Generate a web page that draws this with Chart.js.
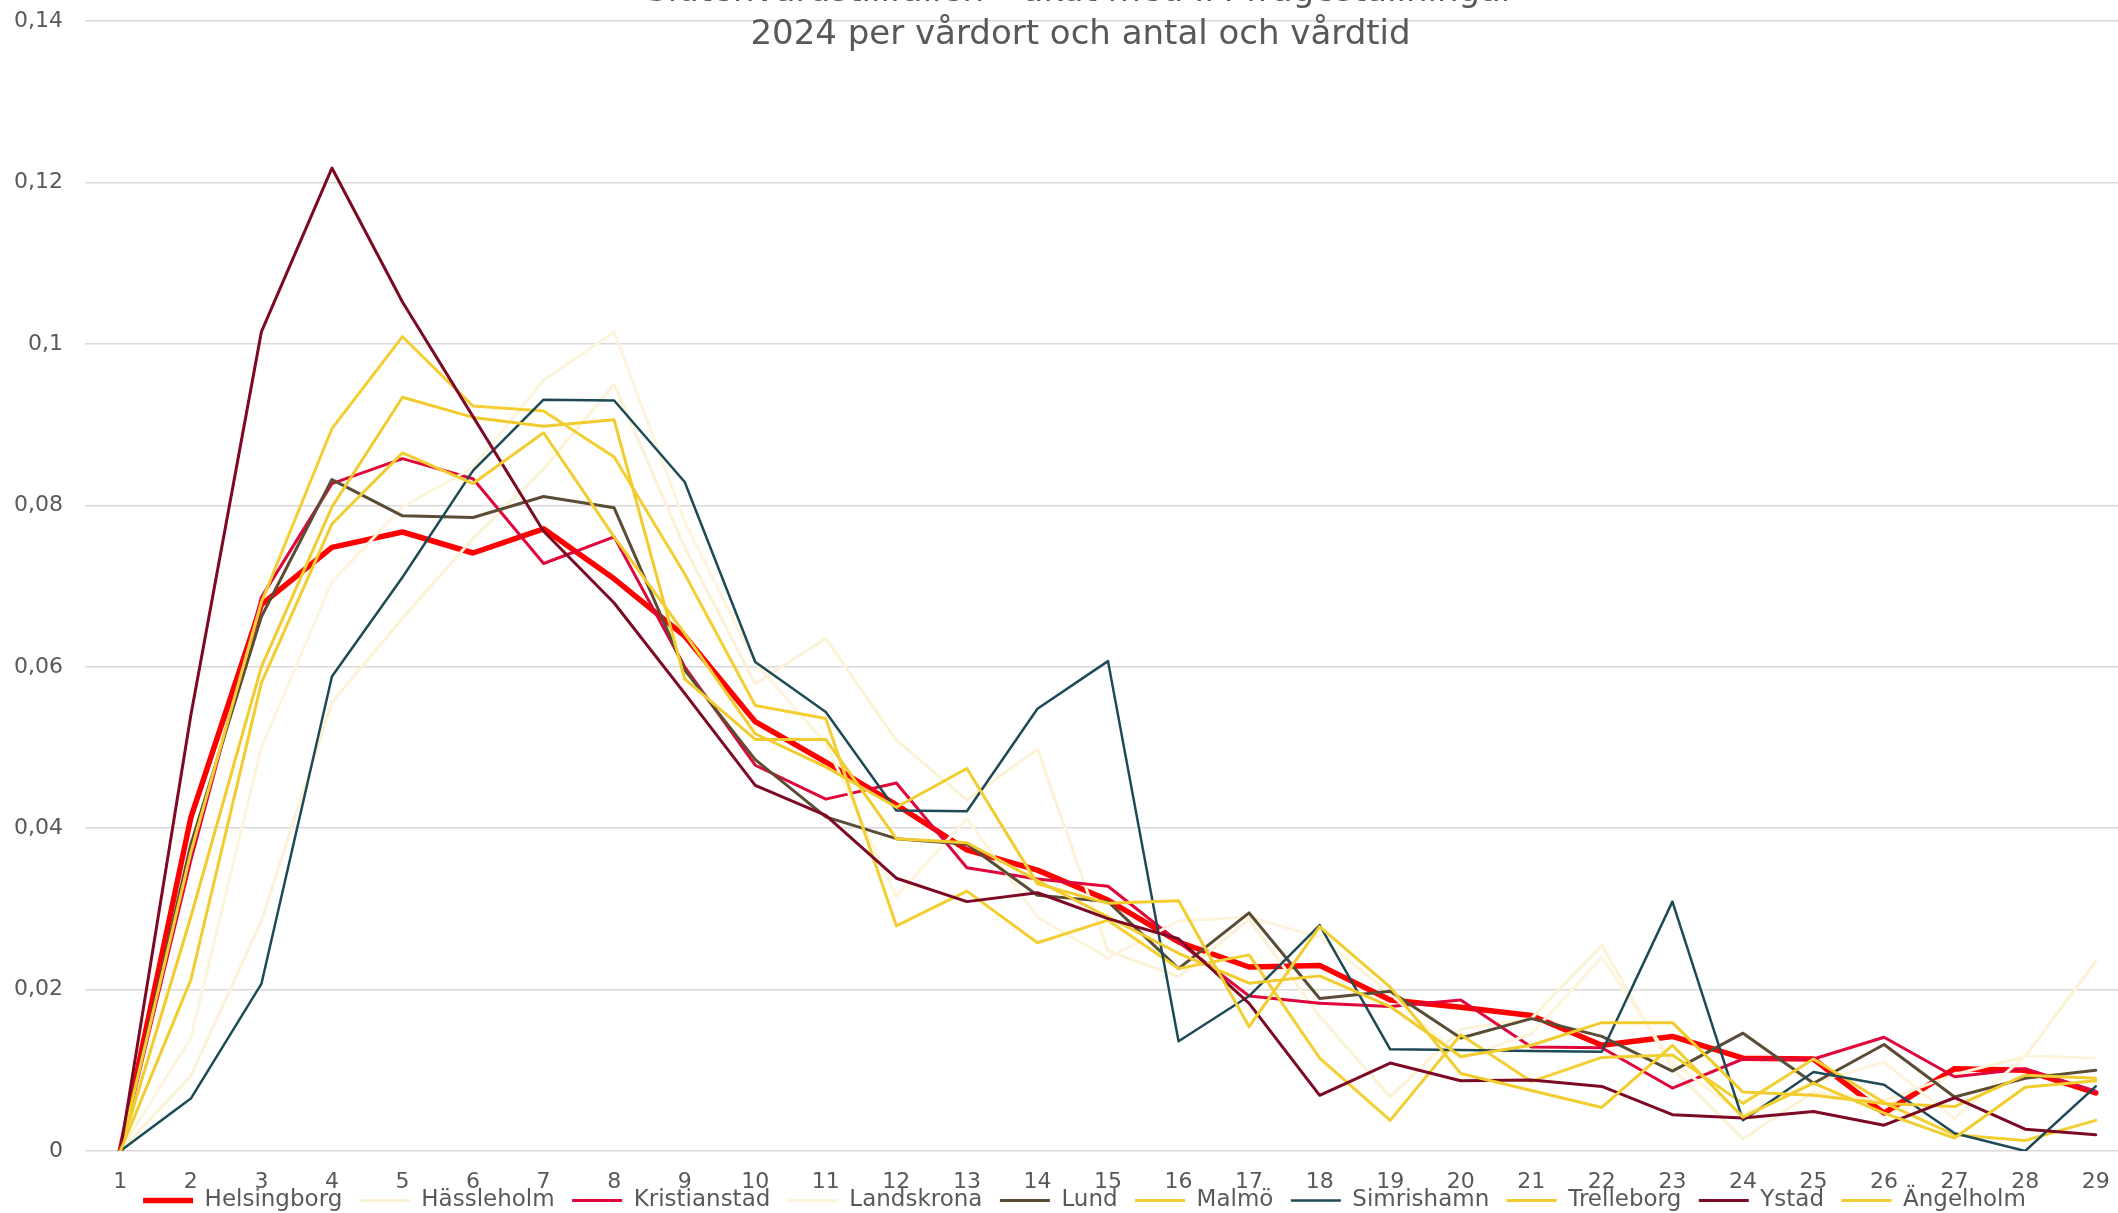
<!DOCTYPE html>
<html>
<head>
<meta charset="utf-8">
<script src="https://cdn.jsdelivr.net/npm/chart.js@4.4.1/dist/chart.umd.min.js"></script>
<style>
  html, body { margin: 0; padding: 0; background: #ffffff; overflow: hidden; }
  body { width: 2118px; height: 1213px; position: relative; }
  #wrap { position: absolute; left: 0; top: -60px; width: 2160px; height: 1306px; }
</style>
</head>
<body>
<div id="wrap"><canvas id="myChart"></canvas></div>
<script>
// vårdtid (dagar) på x-axeln
var vardtid = ["1","2","3","4","5","6","7","8","9","10","11","12","13","14","15","16","17","18","19","20","21","22","23","24","25","26","27","28","29"];

// andel per vårdort
var helsingborg  = [0, 0.0413, 0.0677, 0.0748, 0.0767, 0.0741, 0.0771, 0.0709, 0.0638, 0.0532, 0.0482, 0.0429, 0.0373, 0.0348, 0.0311, 0.0259, 0.0228, 0.0230, 0.0187, 0.0178, 0.0168, 0.0131, 0.0142, 0.0115, 0.0114, 0.0047, 0.0102, 0.0100, 0.0072];
var hassleholm   = [0, 0.0093, 0.0285, 0.0556, 0.0660, 0.0759, 0.0845, 0.0950, 0.0748, 0.0579, 0.0635, 0.0509, 0.0435, 0.0498, 0.0248, 0.0216, 0.0287, 0.0167, 0.0067, 0.0151, 0.0164, 0.0255, 0.0102, 0.0015, 0.0073, 0.0062, 0.0095, 0.0117, 0.0235];
var kristianstad = [0, 0.0360, 0.0686, 0.0827, 0.0858, 0.0833, 0.0728, 0.0761, 0.0600, 0.0478, 0.0436, 0.0456, 0.0351, 0.0337, 0.0328, 0.0259, 0.0192, 0.0183, 0.0179, 0.0187, 0.0129, 0.0128, 0.0078, 0.0114, 0.0114, 0.0141, 0.0092, 0.0102, 0.0074];
var landskrona   = [0, 0.0140, 0.0500, 0.0705, 0.0798, 0.0847, 0.0955, 0.1015, 0.0780, 0.0605, 0.0505, 0.0315, 0.0412, 0.0290, 0.0239, 0.0285, 0.0290, 0.0265, 0.0195, 0.0115, 0.0145, 0.0240, 0.0110, 0.0045, 0.0085, 0.0110, 0.0040, 0.0118, 0.0115];
var lund         = [0, 0.0380, 0.0662, 0.0832, 0.0787, 0.0785, 0.0811, 0.0797, 0.0596, 0.0485, 0.0414, 0.0387, 0.0380, 0.0317, 0.0309, 0.0226, 0.0295, 0.0189, 0.0198, 0.0140, 0.0164, 0.0142, 0.0099, 0.0146, 0.0084, 0.0132, 0.0067, 0.0090, 0.0100];
var malmo        = [0, 0.0370, 0.0680, 0.0895, 0.1009, 0.0923, 0.0917, 0.0860, 0.0715, 0.0552, 0.0536, 0.0279, 0.0322, 0.0258, 0.0286, 0.0226, 0.0243, 0.0115, 0.0038, 0.0144, 0.0086, 0.0116, 0.0119, 0.0059, 0.0114, 0.0060, 0.0020, 0.0013, 0.0038];
var simrishamn   = [0, 0.0065, 0.0207, 0.0588, 0.0711, 0.0843, 0.0931, 0.0930, 0.0829, 0.0606, 0.0544, 0.0422, 0.0421, 0.0548, 0.0607, 0.0136, 0.0192, 0.0280, 0.0126, 0.0125, 0.0124, 0.0123, 0.0309, 0.0038, 0.0098, 0.0082, 0.0022, 0.0000, 0.0080];
var trelleborg   = [0, 0.0290, 0.0600, 0.0798, 0.0934, 0.0909, 0.0898, 0.0906, 0.0585, 0.0510, 0.0510, 0.0387, 0.0382, 0.0335, 0.0290, 0.0245, 0.0208, 0.0217, 0.0179, 0.0117, 0.0131, 0.0159, 0.0159, 0.0073, 0.0069, 0.0059, 0.0055, 0.0094, 0.0090];
var ystad        = [0, 0.0540, 0.1015, 0.1218, 0.1052, 0.0910, 0.0768, 0.0679, 0.0567, 0.0453, 0.0416, 0.0338, 0.0309, 0.0320, 0.0288, 0.0263, 0.0183, 0.0069, 0.0109, 0.0087, 0.0088, 0.0080, 0.0045, 0.0041, 0.0049, 0.0032, 0.0066, 0.0027, 0.0020];
var angelholm    = [0, 0.0212, 0.0580, 0.0777, 0.0865, 0.0827, 0.0890, 0.0761, 0.0641, 0.0517, 0.0476, 0.0426, 0.0474, 0.0331, 0.0307, 0.0310, 0.0154, 0.0278, 0.0203, 0.0096, 0.0075, 0.0054, 0.0131, 0.0042, 0.0084, 0.0047, 0.0016, 0.0079, 0.0087];

var orter  = ["Helsingborg", "Hässleholm", "Kristianstad", "Landskrona", "Lund", "Malmö", "Simrishamn", "Trelleborg", "Ystad", "Ängelholm"];
var serier = [helsingborg, hassleholm, kristianstad, landskrona, lund, malmo, simrishamn, trelleborg, ystad, angelholm];
var farger = ["#ff0000", "#fcf2d6", "#e0063c", "#fdf4dc", "#5b4c35", "#f3cf33", "#1d4a55", "#f2cc2e", "#7d0a24", "#f2cd30"];
var bredd  = [5.5, 3, 3, 3, 3, 3, 2.5, 3, 3, 3];

var titel = ["Slutenvårdstillfällen – akut med IM-frågeställningar", "2024 per vårdort och antal och vårdtid"];

var textFarg = "#595959";
var typsnitt = "DejaVu Sans";

var datasets = [];
for (var i = 0; i < orter.length; i++) {
    datasets.push({
        label: orter[i],
        data: serier[i],
        borderColor: farger[i],
        backgroundColor: farger[i],
        borderWidth: bredd[i],
        pointRadius: 0,
        pointHoverRadius: 0,
        tension: 0,
        borderJoinStyle: "round",
        borderCapStyle: "round",
        fill: false,
        order: orter.length - i   // senare serier ritas ovanpå, som i Excel
    });
}

// titel och förklaring ligger tätt, som i Excel-bilden
var flyttaRutor = {
    id: "flyttaRutor",
    afterLayout: function (chart) {
        chart.legend.top -= 24;
        chart.legend.bottom -= 24;
        chart.legend.left += 19;
        chart.legend.right += 19;
        chart.titleBlock.left += 15;
        chart.titleBlock.right += 15;
    }
};

var ctx = document.getElementById("myChart");
var myChart = new Chart(ctx, {
    type: "line",
    data: {
        labels: vardtid,
        datasets: datasets
    },
    plugins: [flyttaRutor],
    options: {
        responsive: true,
        maintainAspectRatio: false,
        animation: false,
        events: [],
        layout: {
            padding: { top: 0, right: 29, bottom: 0, left: 0 }
        },
        plugins: {
            tooltip: { enabled: false },
            title: {
                display: true,
                text: titel,
                color: textFarg,
                font: { family: typsnitt, size: 34, weight: "normal", lineHeight: 1.245 },
                padding: { top: 31.5, bottom: -35 }
            },
            legend: {
                display: true,
                position: "bottom",
                labels: {
                    usePointStyle: true,
                    pointStyle: "line",
                    pointStyleWidth: 50,
                    padding: 17.5,
                    color: textFarg,
                    font: { family: typsnitt, size: 23 },
                    sort: function (a, b) { return a.datasetIndex - b.datasetIndex; }
                }
            }
        },
        scales: {
            x: {
                offset: true,
                grid: { display: false, drawTicks: false },
                border: { display: false },
                ticks: {
                    color: textFarg,
                    font: { family: typsnitt, size: 22 },
                    padding: 18,
                    maxRotation: 0,
                    autoSkip: false
                },
                afterFit: function (scale) { scale.height = 44.5; }
            },
            y: {
                min: 0,
                max: 0.14,
                grid: { color: "#d9d9d9", lineWidth: 1.5, drawTicks: false },
                border: { display: false },
                ticks: {
                    stepSize: 0.02,
                    color: textFarg,
                    font: { family: typsnitt, size: 22 },
                    padding: 22,
                    callback: function (v) {
                        return String(Math.round(v * 100) / 100).replace(".", ",");
                    }
                },
                afterFit: function (scale) { scale.width = 85; }
            }
        }
    }
});
</script>
</body>
</html>
